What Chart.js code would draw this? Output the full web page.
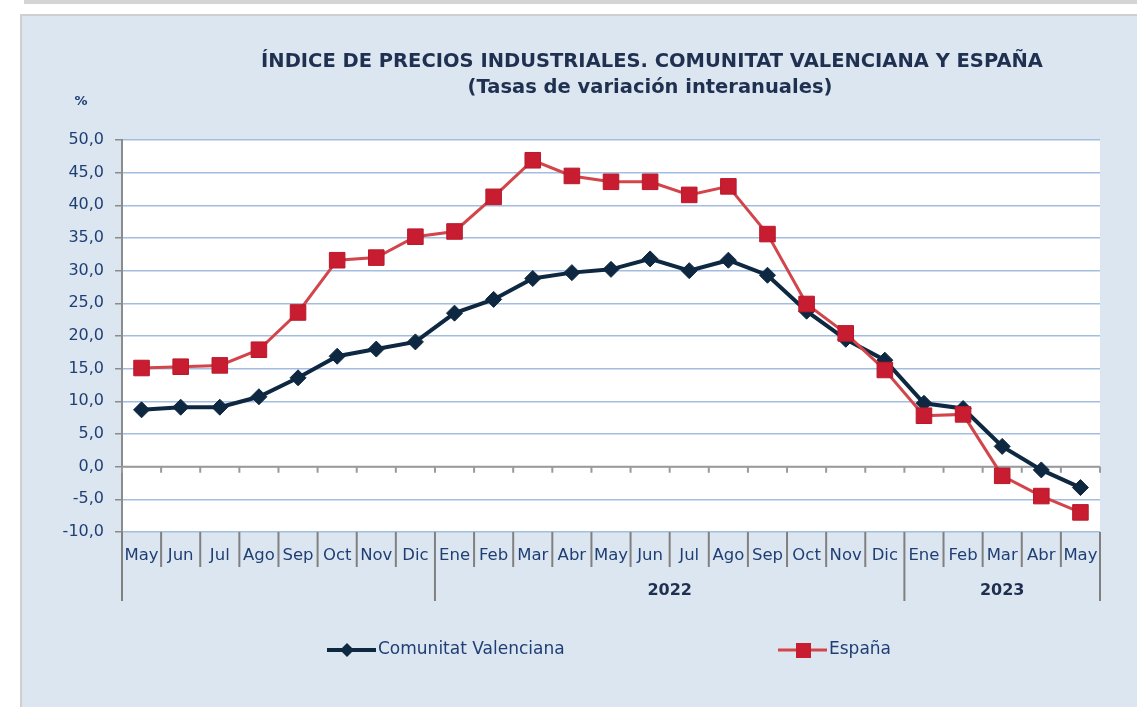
<!DOCTYPE html>
<html>
<head>
<meta charset="utf-8">
<script src="https://cdn.jsdelivr.net/npm/chart.js@4"></script>
<style>
  body { margin: 0; background: #fff; }
  canvas { display: block; }
</style>
</head>
<body>
<canvas id="ipiChart" width="1137" height="707"></canvas>
<script>
const monthLabels = ['May', 'Jun', 'Jul', 'Ago', 'Sep', 'Oct', 'Nov', 'Dic',
    'Ene', 'Feb', 'Mar', 'Abr', 'May', 'Jun', 'Jul', 'Ago', 'Sep', 'Oct', 'Nov', 'Dic',
    'Ene', 'Feb', 'Mar', 'Abr', 'May'];
const yearLabels = ['', '2022', '2023'];
const yearSizes = [8, 12, 5];

const cvValues = [8.7, 9.1, 9.1, 10.7, 13.6, 16.9, 18.0, 19.1,
    23.5, 25.6, 28.8, 29.7, 30.2, 31.8, 30.0, 31.6, 29.3, 23.8, 19.5, 16.3,
    9.7, 8.9, 3.1, -0.5, -3.2];
const espValues = [15.1, 15.3, 15.5, 17.9, 23.6, 31.6, 32.0, 35.2,
    36.0, 41.3, 46.9, 44.5, 43.6, 43.6, 41.6, 42.9, 35.6, 24.9, 20.4, 14.8,
    7.8, 8.0, -1.4, -4.5, -7.0];

const titleLines = ['ÍNDICE DE PRECIOS INDUSTRIALES. COMUNITAT VALENCIANA Y ESPAÑA',
    '(Tasas de variación interanuales)'];
const unitLabel = '%';
const seriesNames = ['Comunitat Valenciana', 'España'];

const navy = '#0e2841';
const red = '#d2454b';
const redMark = '#c81d31';
const labelBlue = '#1f3f74';
const fontName = 'DejaVu Sans';

// fondo azul del panel y area blanca del grafico
const panelBackground = {
    id: 'panelBackground',
    beforeDraw(chart) {
        const { ctx, chartArea } = chart;
        ctx.save();
        ctx.fillStyle = '#ffffff';
        ctx.fillRect(0, 0, chart.width, chart.height);
        ctx.fillStyle = '#d4d4d4';
        ctx.fillRect(24, 0, chart.width - 24, 4);
        ctx.fillStyle = '#cfcfcf';
        ctx.fillRect(20, 14, chart.width - 20, chart.height - 14);
        ctx.fillStyle = '#dce6f1';
        ctx.fillRect(22, 16, chart.width - 22, chart.height - 16);
        ctx.fillStyle = '#ffffff';
        ctx.fillRect(chartArea.left, chartArea.top, chartArea.right - chartArea.left, chartArea.bottom - chartArea.top);
        ctx.restore();
    }
};

// eje horizontal en el 0
const zeroAxis = {
    id: 'zeroAxis',
    beforeDatasetsDraw(chart) {
        const { ctx, chartArea, scales } = chart;
        const y0 = scales.y.getPixelForValue(0);
        const step = (chartArea.right - chartArea.left) / monthLabels.length;
        ctx.save();
        ctx.strokeStyle = '#9a9a9a';
        ctx.lineWidth = 2;
        ctx.beginPath();
        ctx.moveTo(chartArea.left, y0);
        ctx.lineTo(chartArea.right, y0);
        for (let i = 0; i <= monthLabels.length; i++) {
            const x = chartArea.left + i * step;
            ctx.moveTo(x, y0);
            ctx.lineTo(x, y0 + 6);
        }
        ctx.stroke();
        ctx.restore();
    }
};

// etiquetas de meses y años, titulo y leyenda
const decorations = {
    id: 'decorations',
    afterDraw(chart) {
        const { ctx, chartArea, scales } = chart;
        const step = (chartArea.right - chartArea.left) / monthLabels.length;
        const bottom = chartArea.bottom;
        ctx.save();

        ctx.strokeStyle = '#808080';
        ctx.lineWidth = 2;
        const groupEdges = [0];
        yearSizes.forEach(n => groupEdges.push(groupEdges[groupEdges.length - 1] + n));
        ctx.beginPath();
        for (let i = 0; i <= monthLabels.length; i++) {
            const x = chartArea.left + i * step;
            const long = groupEdges.includes(i);
            ctx.moveTo(x, bottom);
            ctx.lineTo(x, bottom + (long ? 69 : 35));
        }
        ctx.stroke();

        ctx.fillStyle = labelBlue;
        ctx.font = '16.5px "' + fontName + '"';
        ctx.textAlign = 'center';
        ctx.textBaseline = 'middle';
        monthLabels.forEach((m, i) => {
            ctx.fillText(m, scales.x.getPixelForValue(i), bottom + 24);
        });

        ctx.fillStyle = '#1f2f4f';
        ctx.font = 'bold 16px "' + fontName + '"';
        yearLabels.forEach((y, g) => {
            const x = chartArea.left + (groupEdges[g] + groupEdges[g + 1]) / 2 * step;
            ctx.fillText(y, x, bottom + 59);
        });

        ctx.fillStyle = '#1f3050';
        ctx.font = 'bold 19.5px "' + fontName + '"';
        ctx.fillText(titleLines[0], 652, 62);
        ctx.fillText(titleLines[1], 650, 88);

        ctx.font = 'bold 13px "' + fontName + '"';
        ctx.fillStyle = labelBlue;
        ctx.fillText(unitLabel, 81, 102);

        // leyenda
        ctx.font = '17px "' + fontName + '"';
        ctx.textAlign = 'left';
        ctx.strokeStyle = navy;
        ctx.lineWidth = 4;
        ctx.beginPath();
        ctx.moveTo(327, 650);
        ctx.lineTo(376, 650);
        ctx.stroke();
        ctx.fillStyle = navy;
        ctx.beginPath();
        ctx.moveTo(347, 643);
        ctx.lineTo(354, 650);
        ctx.lineTo(347, 657);
        ctx.lineTo(340, 650);
        ctx.closePath();
        ctx.fill();
        ctx.fillStyle = labelBlue;
        ctx.fillText(seriesNames[0], 378, 650);

        ctx.strokeStyle = red;
        ctx.lineWidth = 3;
        ctx.beginPath();
        ctx.moveTo(778, 650);
        ctx.lineTo(827, 650);
        ctx.stroke();
        ctx.fillStyle = redMark;
        ctx.fillRect(796, 643, 15, 15);
        ctx.fillStyle = labelBlue;
        ctx.fillText(seriesNames[1], 829, 650);

        ctx.restore();
    }
};

new Chart(document.getElementById('ipiChart'), {
    type: 'line',
    data: {
        labels: monthLabels,
        datasets: [{
            label: seriesNames[0],
            data: cvValues,
            borderColor: navy,
            backgroundColor: navy,
            borderWidth: 4,
            pointStyle: 'rectRot',
            pointRadius: 8,
            pointBackgroundColor: navy,
            pointBorderColor: navy,
            pointBorderWidth: 1,
            tension: 0,
            order: 1
        }, {
            label: seriesNames[1],
            data: espValues,
            borderColor: red,
            backgroundColor: redMark,
            borderWidth: 3,
            pointStyle: 'rect',
            pointRadius: 11,
            pointBackgroundColor: redMark,
            pointBorderColor: '#b8192b',
            pointBorderWidth: 1,
            tension: 0,
            order: 0
        }]
    },
    options: {
        responsive: false,
        animation: false,
        layout: {
            padding: { top: 140, right: 37, bottom: 175, left: 0 }
        },
        scales: {
            x: {
                display: false,
                offset: true
            },
            y: {
                min: -10,
                max: 50,
                ticks: {
                    stepSize: 5,
                    color: labelBlue,
                    padding: 11,
                    font: { family: fontName, size: 16 },
                    callback: v => v.toFixed(1).replace('.', ',')
                },
                grid: {
                    color: '#a3bde0',
                    lineWidth: 1.5,
                    tickColor: '#8c8c8c',
                    tickLength: 7
                },
                border: { display: true, color: '#8c8c8c', width: 2 },
                afterFit: scale => { scale.width = 122; }
            }
        },
        plugins: {
            legend: { display: false },
            tooltip: { enabled: false }
        }
    },
    plugins: [panelBackground, zeroAxis, decorations]
});
</script>
</body>
</html>
